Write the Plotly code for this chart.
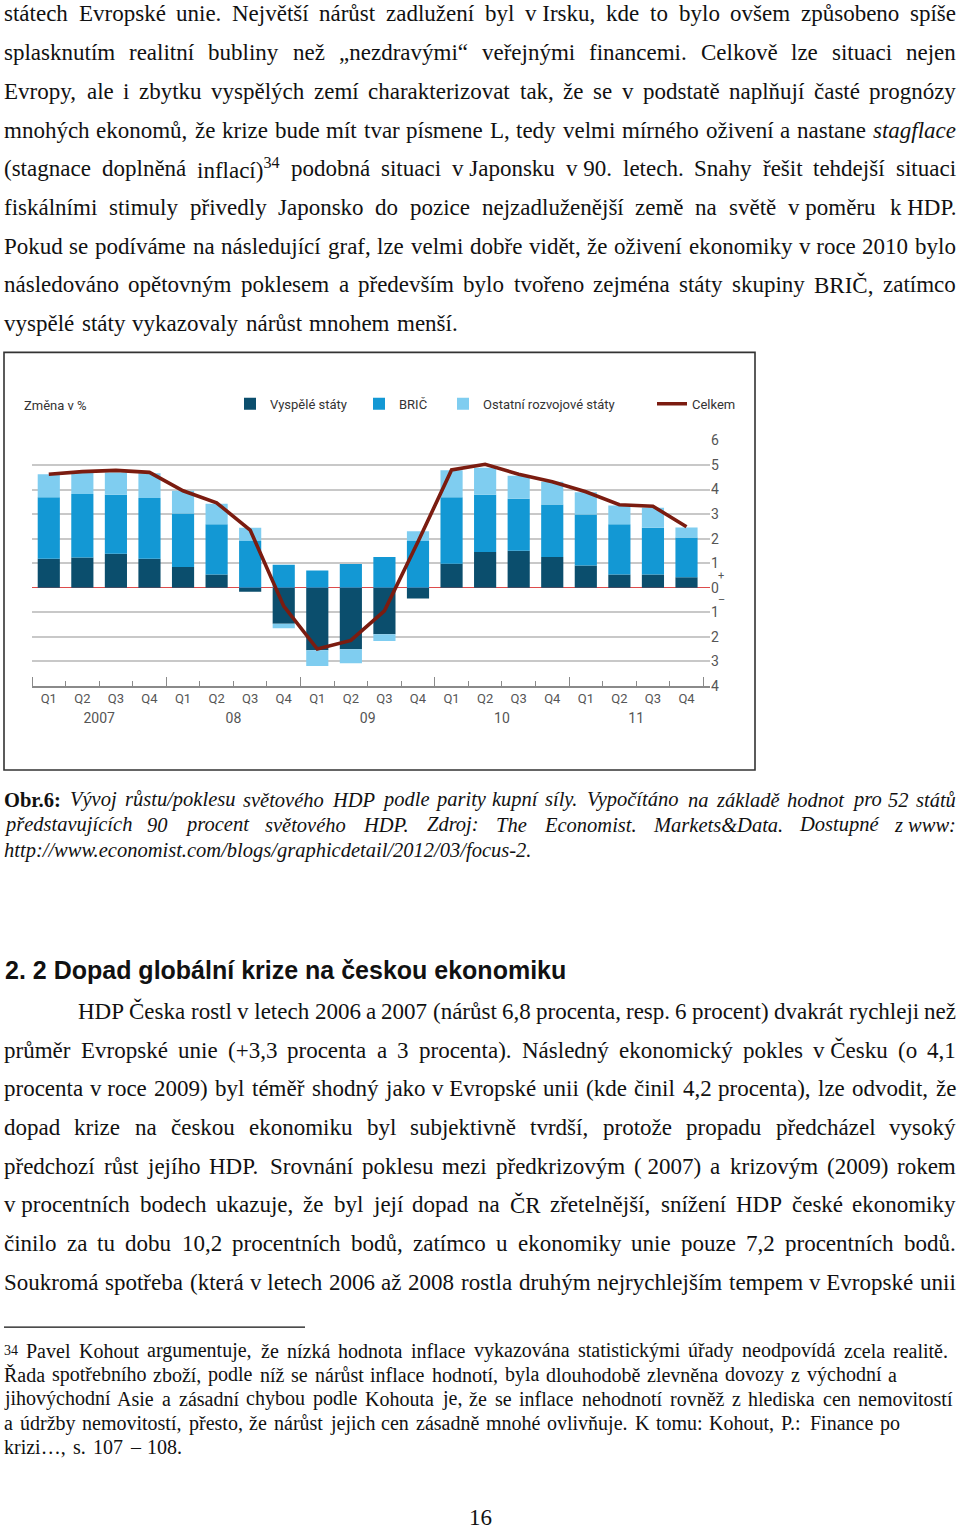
import re
import unicodedata
import plotly.graph_objects as go

# ---------------- chart data ----------------
quarters = ["Q1", "Q2", "Q3", "Q4"] * 5
years = ["2007", "08", "09", "10", "11"]
vyspele = [1.18, 1.23, 1.38, 1.18, 0.84, 0.54, -0.17, -1.47, -2.55, -2.51,
           -1.90, -0.44, 0.98, 1.45, 1.51, 1.25, 0.90, 0.54, 0.54, 0.43]
bric = [2.51, 2.59, 2.41, 2.48, 2.18, 2.05, 1.90, 0.94, 0.70, 0.97,
        1.25, 1.90, 2.71, 2.34, 2.11, 2.14, 2.08, 2.05, 1.90, 1.62]
ostatni = [0.93, 0.87, 0.90, 1.00, 0.93, 0.83, 0.54, -0.18, -0.64, -0.57,
           -0.27, 0.40, 1.10, 1.10, 0.94, 0.93, 0.91, 0.76, 0.82, 0.40]
celkem = [4.62, 4.73, 4.78, 4.70, 3.95, 3.46, 2.35, -0.75, -2.50, -2.15,
          -0.94, 1.87, 4.80, 5.03, 4.62, 4.32, 3.91, 3.38, 3.32, 2.48]
y_tick_values = [-4, -3, -2, -1, 0, 1, 2, 3, 4, 5, 6]
y_tick_labels = ["4", "3", "2", "1", "0", "1", "2", "3", "4", "5", "6"]
series_names = ["Vyspělé státy", "BRIČ", "Ostatní rozvojové státy", "Celkem"]
y_title = "Změna v %"

# ---------------- page text ----------------
body_top = [
    "státech Evropské unie. Největší nárůst zadlužení byl v\u00a0Irsku, kde to bylo ovšem způsobeno spíše",
    "splasknutím realitní bubliny než „nezdravými“ veřejnými financemi. Celkově lze situaci nejen",
    "Evropy, ale i zbytku vyspělých zemí charakterizovat tak, že se v podstatě naplňují časté prognózy",
    "mnohých ekonomů, že krize bude mít tvar písmene L, tedy velmi mírného oživení a nastane <i>stagflace</i>",
    "(stagnace doplněná inflací)<sup>34</sup> podobná situaci v\u00a0Japonsku v\u00a090. letech. Snahy řešit tehdejší situaci",
    "fiskálními stimuly přivedly Japonsko do pozice nejzadluženější země na světě v\u00a0poměru k\u00a0HDP.",
    "Pokud se podíváme na následující graf, lze velmi dobře vidět, že oživení ekonomiky v\u00a0roce 2010 bylo",
    "následováno opětovným poklesem a především bylo tvořeno zejména státy skupiny BRIČ, zatímco",
    "vyspělé státy vykazovaly nárůst mnohem menší.",
]
caption = [
    "<b>Obr.6:</b> Vývoj růstu/poklesu světového HDP podle parity kupní síly. Vypočítáno na základě hodnot pro 52 států",
    "představujících 90 procent světového HDP. Zdroj: The Economist. Markets&Data. Dostupné z\u00a0www:",
    "http://www.economist.com/blogs/graphicdetail/2012/03/focus-2.",
]
heading = "2. 2 Dopad globální krize na českou ekonomiku"
body_bottom = [
    "HDP Česka rostl v\u00a0letech 2006 a 2007 (nárůst 6,8 procenta, resp. 6 procent) dvakrát rychleji než",
    "průměr Evropské unie (+3,3 procenta a 3 procenta). Následný ekonomický pokles v\u00a0Česku (o 4,1",
    "procenta v\u00a0roce 2009) byl téměř shodný jako v\u00a0Evropské unii (kde činil 4,2 procenta), lze odvodit, že",
    "dopad krize na českou ekonomiku byl subjektivně tvrdší, protože propadu předcházel vysoký",
    "předchozí růst jejího HDP. Srovnání poklesu mezi předkrizovým (\u00a02007) a krizovým (2009) rokem",
    "v\u00a0procentních bodech ukazuje, že byl její dopad na ČR zřetelnější, snížení HDP české ekonomiky",
    "činilo za tu dobu 10,2 procentních bodů, zatímco u ekonomiky unie pouze 7,2 procentních bodů.",
    "Soukromá spotřeba (která v\u00a0letech 2006 až 2008 rostla druhým nejrychlejším tempem v\u00a0Evropské unii",
]
footnote = [
    "<sup>34</sup> Pavel Kohout argumentuje, že nízká hodnota inflace vykazována statistickými úřady neodpovídá zcela realitě.",
    "Řada spotřebního zboží, podle níž se nárůst inflace hodnotí, byla dlouhodobě zlevněna dovozy z východní a",
    "jihovýchodní Asie a zásadní chybou podle Kohouta je, že se inflace nehodnotí rovněž z hlediska cen nemovitostí",
    "a údržby nemovitostí, přesto, že nárůst jejich cen zásadně mnohé ovlivňuje. K tomu: Kohout, P.: Finance po",
    "krizi…, s. 107 – 108.",
]
page_number = "16"

# ---------------- approximate Times metrics (1/1000 em) ----------------
REG = dict(zip("ABCDEFGHIJKLMNOPQRSTUVWXYZ",
               [722, 667, 667, 722, 611, 556, 722, 722, 333, 389, 722, 611, 889,
                722, 722, 556, 722, 667, 556, 611, 722, 722, 944, 722, 722, 611]))
REG.update(zip("abcdefghijklmnopqrstuvwxyz",
               [444, 500, 444, 500, 444, 333, 500, 500, 278, 278, 500, 278, 778,
                500, 500, 500, 500, 333, 389, 278, 500, 500, 722, 500, 500, 444]))
REG.update({" ": 250, "\u00a0": 250, "(": 333, ")": 333, ",": 250, ".": 250, "-": 333,
            "/": 278, ":": 278, ";": 278, "+": 564, "&": 778, "„": 444, "“": 444,
            "–": 500, "…": 1000, "%": 833})
for d in "0123456789":
    REG[d] = 500
ITA = dict(zip("ABCDEFGHIJKLMNOPQRSTUVWXYZ",
               [611, 611, 667, 722, 611, 611, 722, 722, 333, 444, 667, 556, 833,
                667, 722, 611, 722, 611, 500, 556, 722, 611, 833, 611, 556, 556]))
ITA.update(zip("abcdefghijklmnopqrstuvwxyz",
               [500, 500, 444, 500, 444, 278, 500, 500, 278, 278, 444, 278, 722,
                500, 500, 500, 500, 389, 389, 278, 500, 444, 667, 444, 444, 389]))
ITA.update({":": 333, ";": 333})
BOLD = dict(zip("ABCDEFGHIJKLMNOPQRSTUVWXYZ",
                [722, 667, 722, 722, 667, 611, 778, 778, 389, 500, 778, 667, 944,
                 722, 778, 611, 778, 722, 556, 667, 722, 722, 1000, 722, 722, 667]))
BOLD.update(zip("abcdefghijklmnopqrstuvwxyz",
                [500, 556, 444, 556, 444, 333, 500, 556, 278, 333, 556, 278, 833,
                 556, 500, 556, 556, 444, 389, 333, 556, 500, 722, 500, 500, 444]))
BOLD.update({":": 333})


def tok_width(tok, style):
    italic = style == "i" and "<b>" not in tok
    bold = False
    sup = False
    w = 0.0
    for part in re.split(r"(</?(?:i|b|sup)>)", tok):
        if part in ("<i>", "</i>", "<b>", "</b>", "<sup>", "</sup>"):
            on = not part.startswith("</")
            tag = part.strip("</>")
            if tag == "i":
                italic = on
            elif tag == "b":
                bold = on
            else:
                sup = on
            continue
        for ch in part:
            base = unicodedata.normalize("NFD", ch)[0]
            table = BOLD if bold else (ITA if italic else REG)
            cw = table.get(base, REG.get(base, 500))
            w += cw * (0.7 if sup else 1.0)
    return w


W, H = 960, 1537
annotations = []
shapes = []


def px(x):
    return x / W


def py(y):
    return 1 - y / H


def place_line(line, x0, x1, yc, fs, style="r", family="Liberation Serif", color="#111"):
    tokens = [t for t in line.split(" ") if t]
    widths = [tok_width(t, style) * fs / 1000 for t in tokens]
    n = len(tokens)
    gap = (x1 - x0 - sum(widths)) / (n - 1) if n > 1 else 0
    gap = max(gap, 0.18 * fs)
    x = x0
    for i, t in enumerate(tokens):
        txt = t
        if style == "i" and "<b>" not in t:
            txt = "<i>" + t + "</i>"
        last = (i == n - 1 and n > 1)
        annotations.append(dict(
            text=txt, xref="paper", yref="paper",
            x=px(x1) if last else px(x), y=py(yc),
            xanchor="right" if last else "left", yanchor="middle",
            showarrow=False, borderpad=0, borderwidth=0,
            font=dict(family=family, size=fs, color=color)))
        x += widths[i] + gap


# top paragraph
top_ends = [956] * 8 + [458]
for i, line in enumerate(body_top):
    place_line(line, 4, top_ends[i], 6 + 39.1 * i, 23)

# caption
cap_ends = [956, 956, 545]
cap_y = [800, 825.5, 851]
for i, line in enumerate(caption):
    place_line(line, 4, cap_ends[i], cap_y[i], 20.5, style="i")

# heading
annotations.append(dict(text="<b>" + heading + "</b>", xref="paper", yref="paper",
                        x=px(4), y=py(972), xanchor="left", yanchor="middle",
                        showarrow=False, borderpad=0,
                        font=dict(family="Liberation Sans, Arial, sans-serif", size=25, color="#111")))

# bottom paragraph
for i, line in enumerate(body_bottom):
    place_line(line, 78 if i == 0 else 4, 956, 1014 + 39.1 * i, 23)

# footnote
fn_ends = [948, 897, 953, 900, 182]
for i, line in enumerate(footnote):
    place_line(line, 4, fn_ends[i], 1357 + 24.3 * i, 20)
shapes.append(dict(type="line", xref="paper", yref="paper", x0=px(4), x1=px(305),
                   y0=py(1333), y1=py(1333), line=dict(color="#111", width=1.3)))

annotations.append(dict(text=page_number, xref="paper", yref="paper", x=px(480), y=py(1525),
                        xanchor="center", yanchor="middle", showarrow=False,
                        font=dict(family="Liberation Serif", size=23, color="#111")))

# ---------------- chart ----------------
chart_font = "Liberation Sans Narrow, Roboto, Arial, sans-serif"
xi = list(range(len(quarters)))
fig = go.Figure()
colors = ["#0b4e6d", "#1398d4", "#7fcdf0"]
for vals, name, col, lg in zip([vyspele, bric, ostatni], series_names[:3], colors,
                               ["legend", "legend2", "legend3"]):
    fig.add_trace(go.Bar(x=xi, y=vals, name=name, marker=dict(color=col, line=dict(width=0)),
                         width=0.66, legend=lg, xaxis="x", yaxis="y"))
fig.add_trace(go.Scatter(x=xi, y=celkem, name=series_names[3], mode="lines",
                         line=dict(color="#7b1c10", width=3.6), legend="legend4",
                         xaxis="x2", yaxis="y"))

x_dom = [px(32), px(710)]
x_rng = [-0.5, len(quarters) - 0.3]
boundaries = [i - 0.5 for i in range(len(quarters) + 1)]
year_bounds = boundaries[::4]
year_centers = [4 * k + 1.5 for k in range(len(years))]

leg_common = dict(orientation="h", xanchor="left", yanchor="middle", bgcolor="rgba(0,0,0,0)",
                  font=dict(family=chart_font, size=13, color="#333"), itemwidth=30)
leg_y = py(400)

annotations.append(dict(text=y_title, xref="paper", yref="paper", x=px(22), y=py(402),
                        xanchor="left", yanchor="middle", showarrow=False,
                        font=dict(family=chart_font, size=13, color="#333")))
annotations.append(dict(text="+", xref="paper", yref="y", x=px(721), y=0.5, xanchor="center",
                        yanchor="middle", showarrow=False,
                        font=dict(family=chart_font, size=11, color="#555")))
annotations.append(dict(text="\u2013", xref="paper", yref="y", x=px(721), y=-0.5, xanchor="center",
                        yanchor="middle", showarrow=False,
                        font=dict(family=chart_font, size=11, color="#555")))

shapes.append(dict(type="rect", xref="paper", yref="paper", x0=px(4), x1=px(755),
                   y0=py(770), y1=py(348), line=dict(color="#333", width=1.6),
                   fillcolor="rgba(0,0,0,0)", layer="above"))

fig.update_layout(
    width=W, height=H, margin=dict(l=0, r=0, t=0, b=0),
    paper_bgcolor="white", plot_bgcolor="white",
    barmode="relative", bargap=0.34,
    showlegend=True,
    legend=dict(x=px(230), y=leg_y, **leg_common),
    legend2=dict(x=px(359), y=leg_y, **leg_common),
    legend3=dict(x=px(443), y=leg_y, **leg_common),
    legend4=dict(x=px(652), y=leg_y, **leg_common),
    xaxis=dict(domain=x_dom, range=x_rng, tickmode="array", tickvals=xi, ticktext=quarters,
               ticks="", showgrid=False, zeroline=False, showline=True, linecolor="#8a8a8a",
               linewidth=1.5, anchor="y",
               tickfont=dict(family=chart_font, size=13, color="#555"),
               minor=dict(tickmode="array", tickvals=boundaries, ticks="inside", ticklen=5,
                          tickwidth=1.2, tickcolor="#8a8a8a", showgrid=False)),
    xaxis2=dict(overlaying="x", anchor="y", side="bottom", domain=x_dom, range=x_rng,
                tickmode="array", tickvals=year_centers, ticktext=years, ticks="",
                showgrid=False, zeroline=False, showline=False, ticklabelstandoff=22,
                tickfont=dict(family=chart_font, size=14, color="#555"),
                minor=dict(tickmode="array", tickvals=year_bounds, ticks="inside", ticklen=9,
                           tickwidth=1.2, tickcolor="#8a8a8a", showgrid=False)),
    yaxis=dict(domain=[py(685), py(437)], range=[-4, 6], side="right", tickmode="array",
               tickvals=y_tick_values, ticktext=y_tick_labels, ticks="", showline=False,
               showgrid=True, gridcolor="#c8c8c8", gridwidth=1.5,
               zeroline=True, zerolinecolor="#dd4b4b", zerolinewidth=1.2,
               tickfont=dict(family=chart_font, size=14, color="#555")),
    annotations=annotations,
    shapes=shapes,
)

fig.write_html(
    "out.html",
    config={"displayModeBar": False},
    post_script="document.body.style.margin='0';document.body.style.overflow='hidden';",
)
